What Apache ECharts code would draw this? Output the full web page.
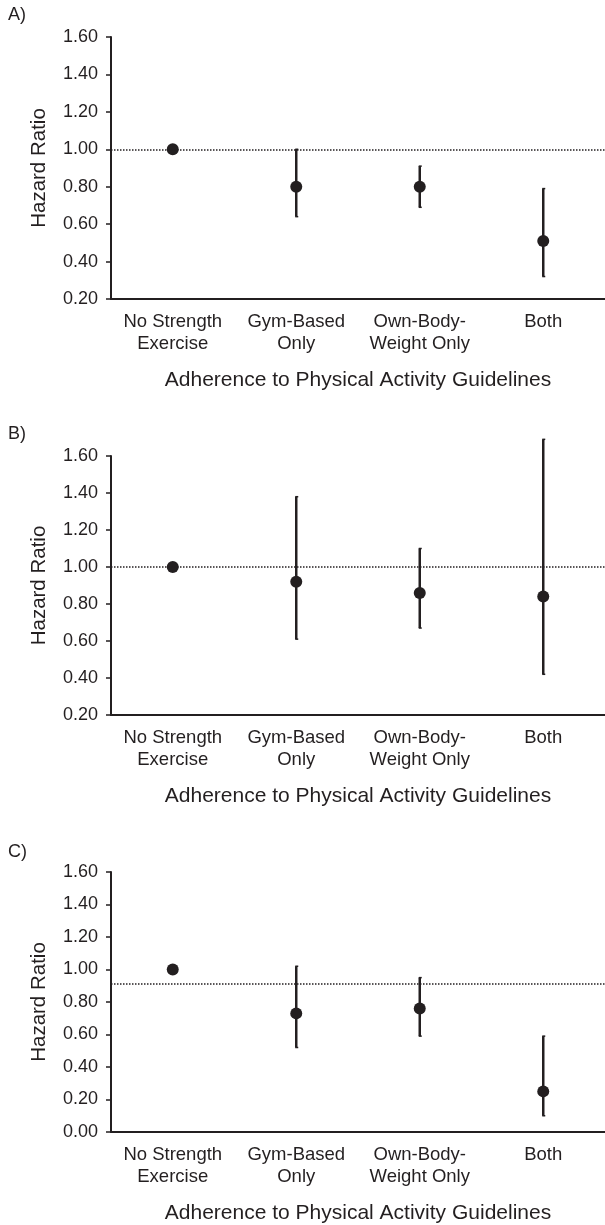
<!DOCTYPE html>
<html>
<head>
<meta charset="utf-8">
<script src="https://cdn.jsdelivr.net/npm/echarts@6/dist/echarts.min.js"></script>
<style>
  html, body { margin: 0; padding: 0; background: #fff; }
  #chart { width: 605px; height: 1225px; }
</style>
</head>
<body>
<div id="chart"></div>
<script>
// three forest-style panels: hazard ratio point + 95% CI per strength-exercise group
const categories = ['No Strength\nExercise', 'Gym-Based\nOnly', 'Own-Body-\nWeight Only', 'Both']

const hrA = [1.00, 0.80, 0.80, 0.51]
const loA = [null, 0.64, 0.69, 0.32]
const hiA = [null, 1.00, 0.91, 0.79]

const hrB = [1.00, 0.92, 0.86, 0.84]
const loB = [null, 0.61, 0.67, 0.42]
const hiB = [null, 1.38, 1.10, 1.69]

const hrC = [1.00, 0.73, 0.76, 0.25]
const loC = [null, 0.52, 0.59, 0.10]
const hiC = [null, 1.02, 0.95, 0.59]

const refLines = [1.00, 1.00, 0.91]
const yMins = [0.2, 0.2, 0]
const panelLabels = ['A)', 'B)', 'C)']

const ink = '#231f20'
const font = 'Liberation Sans, Arial, Helvetica, sans-serif'

const panels = [
  { hr: hrA, lo: loA, hi: hiA, top: 37, height: 262, labelY: 6 },
  { hr: hrB, lo: loB, hi: hiB, top: 456, height: 259, labelY: 425 },
  { hr: hrC, lo: loC, hi: hiC, top: 872, height: 260, labelY: 843 }
]

function ciRender(params, api) {
  const x = api.value(0)
  const top = api.coord([x, api.value(2)])
  const bot = api.coord([x, api.value(1)])
  const st = { stroke: ink, lineWidth: 2.5 }
  return {
    type: 'group',
    children: [
      { type: 'line', shape: { x1: top[0], y1: top[1], x2: bot[0], y2: bot[1] }, style: st },
      { type: 'line', shape: { x1: top[0] - 1, y1: top[1], x2: top[0] + 2, y2: top[1] }, style: { stroke: ink, lineWidth: 1.5 } },
      { type: 'line', shape: { x1: bot[0] - 1, y1: bot[1], x2: bot[0] + 2, y2: bot[1] }, style: { stroke: ink, lineWidth: 1.5 } }
    ]
  }
}

const grid = [], xAxis = [], yAxis = [], series = [], graphic = []

panels.forEach((p, i) => {
  grid.push({ left: 111, right: -3, top: p.top, height: p.height })
  xAxis.push({
    type: 'category', gridIndex: i, data: categories,
    name: 'Adherence to Physical Activity Guidelines',
    nameLocation: 'middle', nameGap: 71,
    nameTextStyle: { fontFamily: font, fontSize: 21, color: ink },
    axisLine: { lineStyle: { color: ink, width: 2 } },
    axisTick: { length: 5, lineStyle: { color: ink, width: 1.5 } },
    axisLabel: { fontFamily: font, fontSize: 18.5, color: ink, lineHeight: 22, margin: 12, interval: 0 }
  })
  yAxis.push({
    type: 'value', gridIndex: i, min: yMins[i], max: 1.6, interval: 0.2,
    name: 'Hazard Ratio', nameLocation: 'middle', nameGap: 61,
    nameTextStyle: { fontFamily: font, fontSize: 20.5, color: ink },
    axisLine: { show: true, lineStyle: { color: ink, width: 2 } },
    axisTick: { show: true, length: 5, lineStyle: { color: ink, width: 1.5 } },
    axisLabel: { fontFamily: font, fontSize: 18, color: ink, margin: 13, formatter: v => v.toFixed(2) },
    splitLine: { show: false }
  })
  const ci = []
  p.lo.forEach((lo, k) => { if (lo != null) ci.push([k, lo, p.hi[k]]) })
  series.push({
    type: 'custom', xAxisIndex: i, yAxisIndex: i,
    renderItem: ciRender, encode: { x: 0, y: [1, 2] }, data: ci, z: 2
  })
  series.push({
    type: 'scatter', xAxisIndex: i, yAxisIndex: i,
    data: p.hr.map((v, k) => [k, v]),
    symbolSize: 12, itemStyle: { color: ink, opacity: 1 }, z: 3,
    markLine: {
      silent: true, symbol: 'none', label: { show: false },
      lineStyle: { color: ink, type: [1.5, 1.5], width: 1.5, opacity: 1 },
      data: [{ yAxis: refLines[i] }]
    }
  })
  graphic.push({
    type: 'text', left: 8, top: p.labelY,
    style: { text: panelLabels[i], font: '18px ' + font, fill: ink }
  })
})

const chart = echarts.init(document.getElementById('chart'))
chart.setOption({
  animation: false,
  grid, xAxis, yAxis, series, graphic
})
</script>
</body>
</html>
